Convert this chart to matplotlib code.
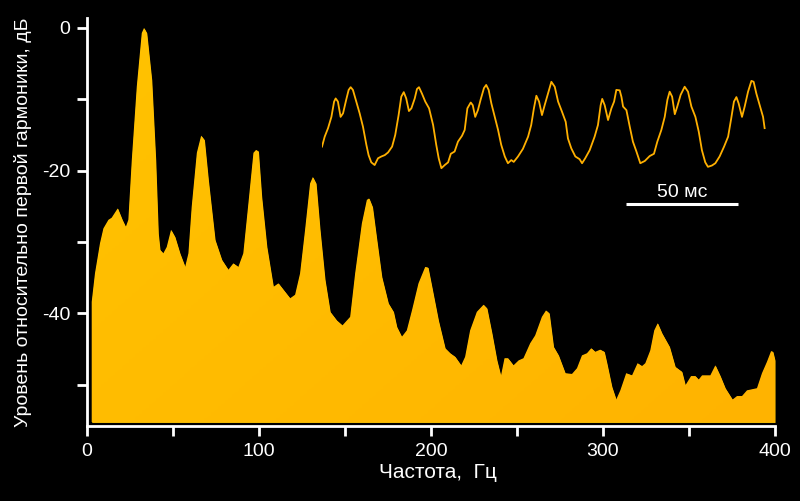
import matplotlib

matplotlib.use("Agg")
import matplotlib.pyplot as plt
import numpy as np
from matplotlib.colors import LinearSegmentedColormap


# Spectrum of the signal, level relative to the first harmonic
SPECTRUM_FREQ_HZ = [
    2.9, 4.8, 7.7, 9.7, 12.6, 14.5, 18.0, 20.7, 22.7, 24.2,
    26.2, 29.1, 32.0, 33.3, 34.9, 37.8, 40.1, 41.6, 42.6, 44.5,
    46.5, 49.0, 51.3, 54.2, 57.2, 59.1, 61.0, 64.0, 66.5, 68.4,
    70.7, 74.6, 78.5, 82.3, 85.2, 88.1, 91.0, 94.0, 96.9, 98.4,
    99.8, 101.7, 104.7, 108.5, 111.4, 114.3, 118.2, 121.1, 124.0, 126.9,
    129.8, 131.4, 133.3, 135.6, 138.5, 141.5, 145.3, 148.6, 153.1, 156.0,
    159.9, 162.8, 164.1, 166.1, 168.6, 171.5, 175.3, 178.3, 180.2, 183.1,
    186.0, 189.0, 192.8, 196.7, 198.4, 200.6, 204.4, 208.3, 211.2, 214.1,
    217.6, 219.9, 222.8, 226.7, 230.6, 232.6, 235.5, 238.4, 240.7, 242.8,
    244.8, 248.0, 251.0, 253.8, 257.7, 260.6, 264.5, 266.9, 268.8, 271.3,
    274.2, 278.1, 282.0, 284.9, 287.8, 290.7, 293.2, 295.5, 298.4, 300.8,
    302.3, 305.2, 307.7, 310.1, 313.5, 316.9, 320.1, 322.7, 324.6, 327.5,
    329.8, 331.8, 334.3, 338.7, 342.0, 345.9, 347.9, 351.2, 353.7, 355.6,
    357.6, 362.4, 365.3, 368.2, 371.1, 375.3, 377.9, 380.8, 383.7, 389.5,
    392.4, 395.3, 397.7, 398.8, 400.0,
]
SPECTRUM_DB = [
    -38.4, -34.4, -30.2, -28.1, -26.9, -26.6, -25.3, -26.9, -27.9, -26.9,
    -18.5, -8.2, -0.7, 0.0, -0.7, -7.3, -18.5, -28.8, -31.1, -31.6,
    -30.7, -28.3, -29.3, -31.6, -33.5, -31.6, -25.1, -17.5, -15.1, -15.7,
    -21.3, -29.7, -32.5, -33.9, -33.0, -33.5, -31.6, -24.5, -17.5, -17.1,
    -17.3, -23.7, -30.7, -36.3, -35.8, -36.7, -37.9, -37.4, -34.4, -28.3,
    -21.8, -20.9, -21.8, -28.3, -35.3, -39.8, -41.0, -41.7, -40.5, -34.4,
    -27.4, -24.1, -23.9, -25.1, -29.7, -34.9, -38.6, -39.8, -41.9, -43.3,
    -42.4, -39.6, -35.8, -33.5, -33.6, -36.3, -41.0, -44.9, -45.6, -46.1,
    -47.3, -46.1, -42.4, -39.8, -38.8, -39.3, -42.8, -46.6, -48.8, -46.3,
    -46.3, -47.3, -46.6, -46.3, -44.2, -43.1, -40.5, -39.6, -40.0, -44.7,
    -45.9, -48.4, -48.5, -47.7, -45.9, -45.6, -44.9, -45.4, -45.1, -45.4,
    -47.0, -50.3, -52.1, -50.8, -48.4, -48.7, -47.0, -47.4, -47.0, -45.2,
    -42.4, -41.4, -42.8, -44.7, -47.5, -48.2, -50.1, -48.8, -48.8, -49.3,
    -48.7, -48.7, -47.3, -48.8, -50.5, -52.1, -51.6, -51.6, -50.8, -50.5,
    -48.4, -46.8, -45.3, -45.4, -46.6,
]
SPECTRUM_FLOOR_DB = -55.3

# Waveform shown in the inset (time in ms, arbitrary amplitude)
WAVE_TIME_MS = [
    0.0, 1.2, 2.7, 4.2, 5.4, 6.1, 7.1, 8.3, 9.4, 10.8,
    11.9, 12.8, 13.8, 15.3, 16.8, 18.3, 19.8, 20.8, 22.0, 23.5,
    25.0, 26.5, 28.0, 29.5, 31.3, 32.7, 34.2, 35.4, 36.5, 37.6,
    38.8, 39.9, 41.4, 42.4, 43.3, 44.6, 46.1, 47.8, 49.6, 51.0,
    52.1, 53.3, 54.8, 56.3, 57.5, 59.2, 60.7, 62.5, 63.7, 64.9,
    66.4, 67.3, 68.4, 69.6, 70.8, 72.3, 73.3, 74.4, 75.6, 77.1,
    78.6, 80.0, 81.6, 83.0, 84.5, 85.6, 87.5, 89.7, 92.0, 93.4,
    94.6, 95.7, 96.9, 98.2, 99.4, 100.9, 102.4, 103.9, 105.4, 107.1,
    108.8, 109.8, 111.3, 113.1, 115.0, 116.1, 117.5, 119.5, 121.7, 123.2,
    124.4, 125.1, 126.2, 127.7, 129.2, 130.4, 131.4, 132.9, 133.7, 134.4,
    135.9, 137.4, 138.8, 140.3, 142.1, 144.1, 146.3, 148.2, 149.7, 151.5,
    153.0, 154.2, 155.2, 156.3, 157.5, 158.6, 160.1, 161.9, 163.4, 164.9,
    166.7, 168.2, 169.6, 171.1, 172.3, 174.1, 175.6, 177.5, 179.5, 181.3,
    182.7, 183.9, 185.0, 186.0, 187.5, 188.7, 190.2, 191.7, 192.7, 193.9,
    195.8, 196.9, 197.6,
]
WAVE_AMPLITUDE = [
    -0.48, -0.26, -0.07, 0.18, 0.52, 0.59, 0.52, 0.18, 0.26, 0.56,
    0.78, 0.84, 0.78, 0.52, 0.26, -0.04, -0.44, -0.67, -0.83, -0.89,
    -0.74, -0.70, -0.67, -0.61, -0.48, -0.22, 0.22, 0.63, 0.73, 0.59,
    0.31, 0.37, 0.59, 0.80, 0.84, 0.70, 0.52, 0.37, 0.00, -0.44,
    -0.74, -0.96, -0.89, -0.83, -0.64, -0.59, -0.37, -0.24, -0.11, 0.37,
    0.50, 0.44, 0.18, 0.33, 0.56, 0.82, 0.89, 0.78, 0.48, 0.18,
    -0.11, -0.44, -0.70, -0.85, -0.78, -0.82, -0.70, -0.53, -0.26, 0.00,
    0.37, 0.65, 0.52, 0.22, 0.44, 0.70, 0.96, 0.85, 0.52, 0.30,
    0.07, -0.30, -0.52, -0.70, -0.76, -0.85, -0.74, -0.56, -0.26, 0.00,
    0.44, 0.58, 0.44, 0.11, 0.37, 0.52, 0.78, 0.77, 0.62, 0.41,
    0.33, -0.04, -0.37, -0.58, -0.85, -0.80, -0.69, -0.64, -0.37, -0.11,
    0.18, 0.56, 0.74, 0.63, 0.24, 0.41, 0.67, 0.85, 0.74, 0.41,
    0.18, -0.15, -0.56, -0.83, -0.93, -0.90, -0.85, -0.70, -0.48, -0.26,
    0.15, 0.52, 0.62, 0.48, 0.18, 0.41, 0.74, 0.98, 0.96, 0.70,
    0.37, 0.18, -0.07,
]
SCALE_BAR_MS = [135.7, 185.7]
SCALE_BAR_LABEL = "50 мс"

X_TICKS = [0, 100, 200, 300, 400]
X_MINOR_TICKS = [50, 150, 250, 350]
Y_TICKS = [0, -20, -40]
Y_MINOR_TICKS = [-10, -30, -50]

X_LABEL = "Частота,  Гц"
Y_LABEL = "Уровень относительно первой гармоники, дБ"

FILL_TOP = "#FFC300"
FILL_BOTTOM = "#FFB300"
WAVE_COLOR = "#FFB000"
FONT = ["Liberation Sans", "DejaVu Sans"]


def style_axes(ax):
    ax.set_facecolor("none")
    for side in ("top", "right"):
        ax.spines[side].set_visible(False)
    for side in ("left", "bottom"):
        ax.spines[side].set_color("white")
        ax.spines[side].set_linewidth(2)
    ax.tick_params(which="both", direction="out", length=7, width=2,
                   colors="white", labelsize=14, pad=5)
    ax.set_xticks(X_TICKS)
    ax.set_xticks(X_MINOR_TICKS, minor=True)
    ax.set_yticks(Y_TICKS)
    ax.set_yticks(Y_MINOR_TICKS, minor=True)
    ax.set_xticklabels([str(t) for t in X_TICKS])
    ax.set_yticklabels([str(t) for t in Y_TICKS])


def plot_spectrum(ax):
    freq = np.array(SPECTRUM_FREQ_HZ)
    level = np.array(SPECTRUM_DB)
    poly = ax.fill_between(freq, level, SPECTRUM_FLOOR_DB, color=FILL_TOP,
                           linewidth=0)

    # soft diagonal shading inside the filled area
    cmap = LinearSegmentedColormap.from_list("fill", [FILL_TOP, FILL_BOTTOM])
    gx, gy = np.meshgrid(np.linspace(0, 1, 200), np.linspace(0, 1, 200))
    grad = 0.6 * gx + 0.4 * gy
    im = ax.imshow(grad, cmap=cmap, extent=[0, 400, SPECTRUM_FLOOR_DB, 1.4],
                   origin="upper", aspect="auto", zorder=2)
    im.set_clip_path(poly.get_paths()[0], transform=ax.transData)

    ax.set_xlim(0, 400)
    ax.set_ylim(-55.8, 1.4)


def plot_waveform(fig):
    inset = fig.add_axes([0.4025, 0.5709, 0.56, 0.2794])
    inset.set_facecolor("none")
    inset.axis("off")
    inset.plot(WAVE_TIME_MS, WAVE_AMPLITUDE, color=WAVE_COLOR, linewidth=1.3)
    inset.plot(SCALE_BAR_MS, [-1.76, -1.76], color="white", linewidth=2.2,
               solid_capstyle="butt")
    inset.text(sum(SCALE_BAR_MS) / 2, -1.50, SCALE_BAR_LABEL, color="white",
               fontsize=14, ha="center", va="center", family=FONT)
    inset.set_xlim(0, 200)
    inset.set_ylim(-2.0, 1.111)


def main():
    plt.rcParams["font.family"] = FONT
    fig = plt.figure(figsize=(8, 5.01), dpi=100, facecolor="black")
    ax = fig.add_axes([0.1084, 0.1497, 0.8604, 0.8144])

    plot_spectrum(ax)
    style_axes(ax)
    ax.set_xlabel(X_LABEL, color="white", fontsize=15, labelpad=3)
    ax.xaxis.set_label_coords(0.51, -0.09)
    ax.set_ylabel(Y_LABEL, color="white", fontsize=14, labelpad=7)

    plot_waveform(fig)

    fig.savefig("out.png", dpi=100, facecolor="black")
    plt.close(fig)


if __name__ == "__main__":
    main()
